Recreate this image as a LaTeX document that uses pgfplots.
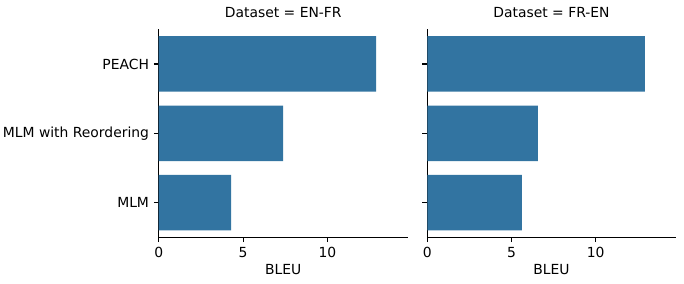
\documentclass[border=0pt]{standalone}
\usepackage{fontspec}
\setmainfont{DejaVu Sans}
\usepackage{pgfplots}
\pgfplotsset{compat=1.18}
\definecolor{sbblue}{HTML}{3274A1}
\pgfplotsset{
  facet/.style={
    scale only axis,
    height=149.8pt,
    xbar, bar width=0.8,
    y dir=reverse,
    ymin=-0.5, ymax=2.5,
    xmin=0, xmax=14.76,
    axis lines=left,
    axis line style={-, line width=0.8pt},
    tick align=outside,
    major tick length=3.5pt,
    tick style={black, line width=0.8pt},
    xtick={0,5,10},
    ytick={0,1,2},
    font=\fontsize{10}{12}\selectfont,
    tick label style={font=\fontsize{10}{12}\selectfont},
    label style={font=\fontsize{10}{12}\selectfont},
    title style={font=\fontsize{10}{12}\selectfont, yshift=-1pt},
    /pgf/number format/assume math mode=true,
    xlabel={BLEU},
    xlabel style={yshift=2pt},
    clip=false,
  }
}
\begin{document}
\begin{tikzpicture}
\path[use as bounding box] (-114.3pt,-32.9pt) rectangle (378.2pt,170.9pt);
\begin{axis}[facet, width=179.3pt, at={(0pt,0pt)}, anchor=south west,
  yticklabels={PEACH, MLM with Reordering, MLM},
  title={Dataset = EN-FR}]
\addplot[fill=sbblue, draw=none] coordinates {(12.89,0) (7.37,1) (4.29,2)};
\end{axis}
\begin{axis}[facet, width=178.8pt, at={(193.4pt,0pt)}, anchor=south west,
  yticklabels={},
  title={Dataset = FR-EN}]
\addplot[fill=sbblue, draw=none] coordinates {(12.93,0) (6.57,1) (5.62,2)};
\end{axis}
\end{tikzpicture}
\end{document}
